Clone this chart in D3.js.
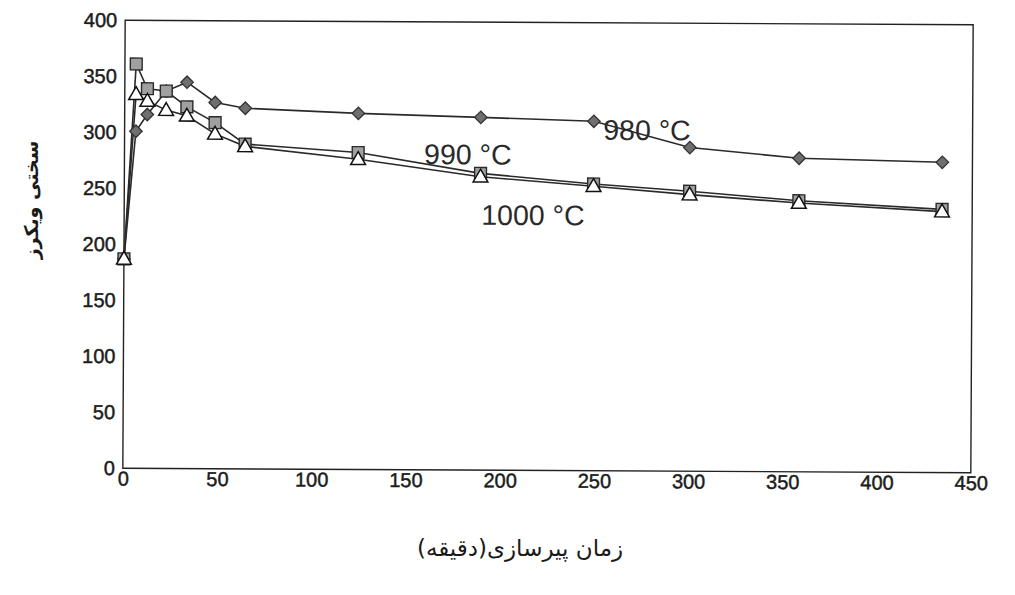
<!DOCTYPE html>
<html>
<head>
<meta charset="utf-8">
<script src="https://cdn.jsdelivr.net/npm/d3@7/dist/d3.min.js"></script>
<style>
  body { margin: 0; background: #fff; }
  svg { display: block; }
  .tick text { font-family: "Liberation Sans", Arial, sans-serif; font-size: 20px; fill: #1c1c1c; stroke: #1c1c1c; stroke-width: 0.45px; }
</style>
</head>
<body>
<div id="chart"></div>
<script>
// aging time (minutes, as plotted) and Vickers hardness for each temperature
var times  = [0, 6, 12, 22, 33, 48, 64, 124, 189, 249, 300, 358, 434];
var hv980  = [187, 301, 316, 337, 345, 327, 322, 318, 315, 312, 289, 280, 277];
var hv990  = [187, 361, 339, 337, 323, 309, 290, 283, 265, 256, 250, 242, 235];
var hv1000 = [187, 334, 328, 320, 315, 299, 288, 277, 262, 254, 247, 240, 233];
var seriesNames = ["980 °C", "990 °C", "1000 °C"];
var xTicks = [0, 50, 100, 150, 200, 250, 300, 350, 400, 450];
var yTicks = [0, 50, 100, 150, 200, 250, 300, 350, 400];

function drawChart() {
    var margin = {top: 22.5, left: 124},
        width = 848,
        height = 448;

    var svg = d3.select("#chart").append("svg")
        .attr("width", 1015)
        .attr("height", 595);

    // the scanned page sits slightly tilted
    var page = svg.append("g")
        .attr("transform", "rotate(0.3,548,246)");

    var g = page.append("g")
        .attr("transform", "translate(" + margin.left + "," + margin.top + ")");

    var x = d3.scaleLinear().domain([0, 450]).range([0, width]);
    var y = d3.scaleLinear().domain([0, 400]).range([height, 0]);

    // axes (no tick marks, just labels)
    var yAxis = g.append("g")
        .call(d3.axisLeft(y).tickValues(yTicks).tickSize(0).tickPadding(8));
    yAxis.select(".domain").remove();

    var xAxis = g.append("g")
        .attr("transform", "translate(0," + height + ")")
        .call(d3.axisBottom(x).tickValues(xTicks).tickSize(0).tickPadding(3));
    xAxis.select(".domain").remove();

    // plot frame
    g.append("rect")
        .attr("width", width)
        .attr("height", height)
        .attr("fill", "none")
        .attr("stroke", "#222")
        .attr("stroke-width", 1.4);

    var series = [
        {name: seriesNames[0], values: hv980},
        {name: seriesNames[1], values: hv990},
        {name: seriesNames[2], values: hv1000}
    ];

    var line = d3.line()
        .x(function(d, i) { return x(times[i]); })
        .y(function(d) { return y(d); });

    series.forEach(function(s) {
        g.append("path")
            .attr("d", line(s.values))
            .attr("fill", "none")
            .attr("stroke", "#2a2a2a")
            .attr("stroke-width", 1.6);
    });

    // markers
    var diamond = d3.symbol().type(d3.symbolSquare).size(78);
    var square = d3.symbol().type(d3.symbolSquare).size(140);
    var triangle = d3.symbol().type(d3.symbolTriangle).size(95);

    g.selectAll(".m980").data(hv980).enter().append("path")
        .attr("class", "m980")
        .attr("d", diamond)
        .attr("transform", function(d, i) { return "translate(" + x(times[i]) + "," + y(d) + ") rotate(45)"; })
        .attr("fill", "#6f6f6f")
        .attr("stroke", "#333")
        .attr("stroke-width", 1.3);

    g.selectAll(".m990").data(hv990).enter().append("path")
        .attr("class", "m990")
        .attr("d", square)
        .attr("transform", function(d, i) { return "translate(" + x(times[i]) + "," + y(d) + ")"; })
        .attr("fill", "#a0a0a0")
        .attr("stroke", "#2a2a2a")
        .attr("stroke-width", 1.4);

    g.selectAll(".m1000").data(hv1000).enter().append("path")
        .attr("class", "m1000")
        .attr("d", triangle)
        .attr("transform", function(d, i) { return "translate(" + x(times[i]) + "," + (y(d) + 1) + ")"; })
        .attr("fill", "#fff")
        .attr("stroke", "#111")
        .attr("stroke-width", 1.5);

    // series labels placed in data units
    var labelAt = [[254, 295.5], [159, 273], [189.5, 219]];
    series.forEach(function(s, i) {
        g.append("text")
            .attr("x", x(labelAt[i][0]))
            .attr("y", y(labelAt[i][1]))
            .attr("font-family", "Liberation Sans, Arial, sans-serif")
            .attr("font-size", 28.5)
            .attr("fill", "#2a2a2a")
            .text(s.name);
    });

    // axis titles
    svg.append("text")
        .attr("x", 520)
        .attr("y", 556)
        .attr("text-anchor", "middle")
        .attr("direction", "rtl")
        .attr("font-family", "DejaVu Sans, sans-serif")
        .attr("font-size", 23)
        .attr("fill", "#1a1a1a")
        .text("زمان پیرسازی(دقیقه)");

    svg.append("text")
        .attr("transform", "translate(38,200) rotate(-90)")
        .attr("text-anchor", "middle")
        .attr("direction", "rtl")
        .attr("font-family", "DejaVu Sans, sans-serif")
        .attr("font-size", 19)
        .attr("font-weight", "bold")
        .attr("fill", "#1a1a1a")
        .text("سختی ویکرز");
}

drawChart();
</script>
</body>
</html>
